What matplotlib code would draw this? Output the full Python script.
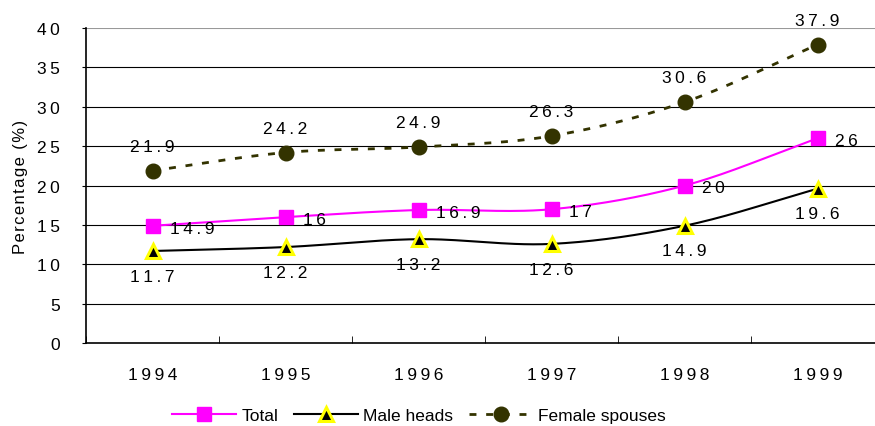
import numpy as np
import matplotlib.pyplot as plt

plt.rcParams['font.family'] = ['Liberation Sans', 'DejaVu Sans']

years = ['1994', '1995', '1996', '1997', '1998', '1999']
total = [14.9, 16, 16.9, 17, 20, 26]
male_heads = [11.7, 12.2, 13.2, 12.6, 14.9, 19.6]
female_spouses = [21.9, 24.2, 24.9, 26.3, 30.6, 37.9]


def smooth(xs, ys, n=30):
    # Catmull-Rom curve through the points, like a spreadsheet "smoothed line"
    xs = np.asarray(xs, float)
    ys = np.asarray(ys, float)
    px = np.concatenate([[2 * xs[0] - xs[1]], xs, [2 * xs[-1] - xs[-2]]])
    py = np.concatenate([[2 * ys[0] - ys[1]], ys, [2 * ys[-1] - ys[-2]]])
    out_x, out_y = [], []
    t = np.linspace(0, 1, n)
    for i in range(1, len(px) - 2):
        for p, out in ((px, out_x), (py, out_y)):
            p0, p1, p2, p3 = p[i - 1], p[i], p[i + 1], p[i + 2]
            seg = 0.5 * ((2 * p1) + (-p0 + p2) * t
                         + (2 * p0 - 5 * p1 + 4 * p2 - p3) * t ** 2
                         + (-p0 + 3 * p1 - 3 * p2 + p3) * t ** 3)
            out.extend(seg)
    return np.array(out_x), np.array(out_y)


def spaced(s, sep='\u2009'):
    # wide letter spacing used for the numbers
    return sep.join(str(s))


fig = plt.figure(figsize=(8.75, 4.27), dpi=100)
ax = fig.add_axes([0.0983, 0.194, 0.912, 0.738])

x = np.arange(len(years))
fs = 12.5
olive = '#333300'

sx, sy = smooth(x, total)
ax.plot(sx, sy, color='#ff00ff', lw=1.5, zorder=3)
ax.plot(x, total, ls='none', marker='s', ms=10.5, color='#ff00ff', zorder=4)

sx, sy = smooth(x, male_heads)
ax.plot(sx, sy, color='black', lw=1.5, zorder=3)
ax.plot(x, male_heads, ls='none', marker='^', ms=9.5, mfc='black', mec='#ffff00',
        mew=2.2, zorder=4)

sx, sy = smooth(x, female_spouses)
ax.plot(sx, sy, color=olive, lw=2, ls=(0, (2.5, 3.5)), zorder=3)
ax.plot(x, female_spouses, ls='none', marker='o', ms=10.5, color=olive, zorder=4)

# value labels
for xi, v in zip(x, total):
    ax.text(xi + 0.135, v - 0.3, spaced(f'{v:g}'), fontsize=fs, va='center', ha='left')
for xi, v in zip(x, male_heads):
    ax.text(xi, v - 3.2, spaced(f'{v:g}'), fontsize=fs, va='center', ha='center')
for xi, v in zip(x, female_spouses):
    ax.text(xi, v + 3.1, spaced(f'{v:g}'), fontsize=fs, va='center', ha='center')

ax.set_xlim(-0.5, 5.5)
ax.set_ylim(0, 40)
ax.set_yticks(range(0, 45, 5))
ax.set_yticklabels([spaced(v) for v in range(0, 45, 5)])
ax.set_xticks(x)
ax.set_xticklabels([spaced(y) for y in years], fontsize=fs)
ax.set_xticks(np.arange(-0.5, 6, 1), minor=True)
ax.tick_params(axis='x', which='major', length=0, pad=17)
ax.tick_params(axis='x', which='minor', length=5, direction='in')
ax.tick_params(axis='y', labelsize=fs, length=3, pad=16)
ax.set_ylabel(spaced('Percentage (%)', '\u200a'), fontsize=12)
ax.yaxis.set_label_coords(-0.073, 0.5)

for yv in range(5, 40, 5):
    ax.axhline(yv, color='black', lw=0.8, zorder=1)
ax.axhline(40, color='#999999', lw=1.5, zorder=1)
ax.spines['top'].set_visible(False)
ax.spines['right'].set_visible(False)
ax.spines['left'].set_linewidth(1.2)
ax.spines['bottom'].set_linewidth(1.2)

handles = [
    plt.Line2D([], [], color='#ff00ff', lw=1.5, marker='s', ms=10.5),
    plt.Line2D([], [], color='black', lw=1.5, marker='^', ms=9.5, mfc='black',
               mec='#ffff00', mew=2.2),
    plt.Line2D([], [], color=olive, lw=2, ls=(0, (2.5, 3.5)), marker='o', ms=10.5),
]
fig.legend(handles, ['Total', 'Male heads', 'Female spouses'], loc='center',
           bbox_to_anchor=(0.479, 0.024), ncol=3, frameon=False, fontsize=12.5,
           handlelength=3.7, columnspacing=0.9, handletextpad=0.3)

fig.savefig('out.png', dpi=100)
